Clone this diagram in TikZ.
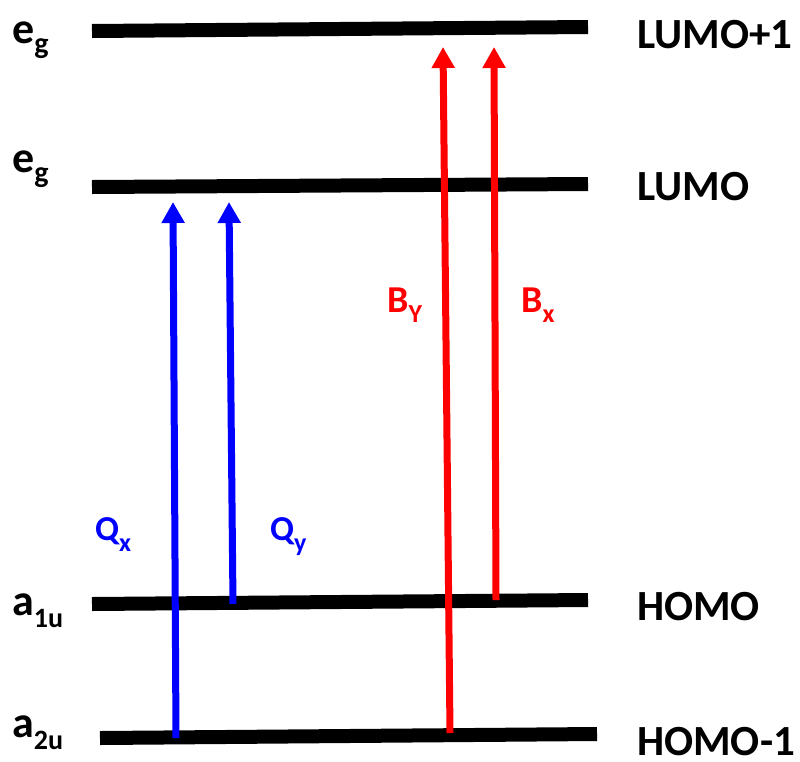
\documentclass[tikz,border=0pt]{standalone}
\usepackage{fontspec}
\setmainfont{Carlito}
\usepackage{xcolor}
\usepackage{tikz}
\usetikzlibrary{arrows.meta,positioning}
\definecolor{OrbBlack}{HTML}{000000}
\definecolor{QBlue}{HTML}{0000FF}
\definecolor{BRed}{HTML}{FF0000}
% lowered index: size, drop, text
\newcommand{\lowidx}[3]{\raisebox{-#2pt}{\fontsize{#1}{#1}\selectfont #3}}
\tikzset{
  levelline/.style={line width=14pt,draw=OrbBlack},
  qarrow/.style={-{Triangle[length=21pt,width=22pt]},line width=7pt,draw=QBlue},
  barrow/.style={-{Triangle[length=21pt,width=22pt]},line width=7pt,draw=BRed},
  symlabel/.style={anchor=base west,inner sep=0pt,font=\fontsize{44}{50}\selectfont\bfseries},
  namelabel/.style={anchor=base west,inner sep=0pt,font=\fontsize{43}{50}\selectfont\bfseries},
  qlabel/.style={anchor=base west,inner sep=0pt,text=QBlue,font=\fontsize{35}{42}\selectfont\bfseries},
  blabel/.style={anchor=base west,inner sep=0pt,text=BRed,font=\fontsize{38}{44}\selectfont\bfseries}
}

\begin{document}
\begin{tikzpicture}[x=1pt,y=-1pt]
\useasboundingbox (0,0) rectangle (800,761);
% orbital levels
\draw[levelline] (92,31) -- (588,27);
\draw[levelline] (92,187) -- (588,184);
\draw[levelline] (92,604) -- (588,600);
\draw[levelline] (100,738) -- (597,734);

\node[symlabel] (eg2) at (12,43) {e\lowidx{30}{10}{g}};
\node[symlabel] (eg1) at (12,172) {e\lowidx{30}{10}{g}};
\node[symlabel] (a1u) at (12,615) {a\lowidx{28}{12}{1u}};
\node[symlabel] (a2u) at (12,737) {a\lowidx{28}{12}{2u}};

\node[namelabel] (lumo1) at (637,48) {LUMO+1};
\node[namelabel] (lumo) at (637,200) {LUMO};
\node[namelabel] (homo) at (637,620) {HOMO};
\node[namelabel] (homo1) at (637,755) {HOMO-1};

% transitions
\coordinate (qx-from) at (176,738);
\coordinate (qx-to) at (173,202);
\coordinate (qy-from) at (233,604);
\coordinate (qy-to) at (229,202);
\coordinate (by-from) at (450,733);
\coordinate (by-to) at (443,47);
\coordinate (bx-from) at (496,600);
\coordinate (bx-to) at (494,47);
\draw[qarrow] (qx-from) -- (qx-to);
\draw[qarrow] (qy-from) -- (qy-to);
\draw[barrow] (by-from) -- (by-to);
\draw[barrow] (bx-from) -- (bx-to);

\node[qlabel] (qx) at (95,540) {Q\lowidx{26}{11}{x}};
\node[qlabel] (qy) at (270,540) {Q\lowidx{26}{11}{y}};
\node[blabel] (by) at (387,312) {B\lowidx{26}{10}{Y}};
\node[blabel] (bx) at (521,312) {B\lowidx{26}{10}{x}};
\end{tikzpicture}
\end{document}
